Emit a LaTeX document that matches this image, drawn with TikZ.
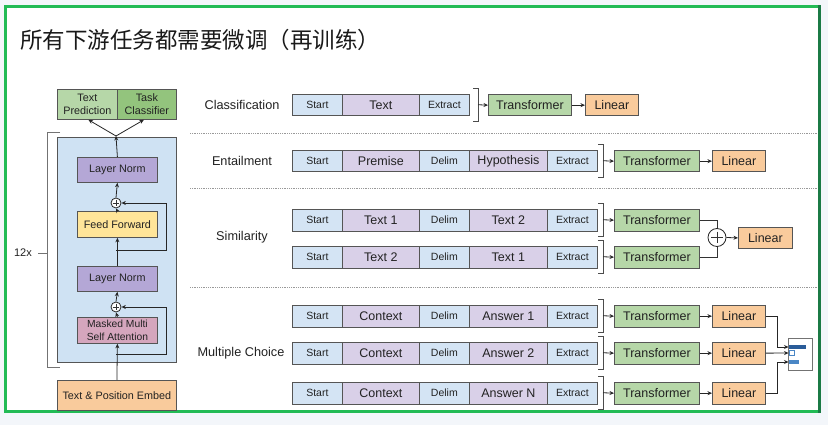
\documentclass[tikz,border=0pt]{standalone}
\usepackage{fontspec}
\setmainfont{Liberation Sans}
\newfontfamily\cjk{Noto Sans CJK SC}
\usetikzlibrary{arrows.meta}
\definecolor{bgc}{HTML}{F3F6FA}
\definecolor{frg}{HTML}{22BB55}
\definecolor{frd}{HTML}{1B7A45}
\definecolor{bordc}{HTML}{555555}
\definecolor{txtc}{HTML}{222222}
\definecolor{cblu}{HTML}{D4E4F4}
\definecolor{clav}{HTML}{D9D0E8}
\definecolor{cgrn}{HTML}{B6D7A8}
\definecolor{cdgrn}{HTML}{93C47D}
\definecolor{corg}{HTML}{F9CB9C}
\definecolor{cbig}{HTML}{CFE2F3}
\definecolor{cln}{HTML}{B4A7D6}
\definecolor{cff}{HTML}{FFE599}
\definecolor{cmm}{HTML}{D5A6BD}
\definecolor{bar1}{HTML}{2A5C99}
\definecolor{bar3}{HTML}{4A86C5}
\begin{document}
\begin{tikzpicture}[x=1pt,y=-1pt,
  tb/.style={draw=bordc, line width=0.8pt, anchor=north west, inner sep=0pt,
    minimum height=21.5pt, text=txtc, font=\fontsize{12.5}{14}\selectfont},
  sm/.style={font=\fontsize{10.5}{12}\selectfont},
  lb/.style={draw=bordc, line width=0.8pt, anchor=north west, inner sep=0pt,
    text=txtc, align=center, font=\fontsize{10.8}{13}\selectfont},
  arr/.style={draw=black!85, line width=0.8pt, -{Stealth[length=4.5pt,width=4pt]}},
  ln/.style={draw=black!80, line width=0.7pt},
  brkl/.style={draw=black!70, line width=0.8pt},
  sepl/.style={draw=black!40, line width=0.6pt, dash pattern=on 0.8pt off 1pt},
  plusc/.style={circle, draw=black!85, line width=0.8pt, fill=white, inner sep=0pt},
  task/.style={text=txtc, font=\fontsize{12.7}{15}\selectfont}
]
\useasboundingbox (0,0) rectangle (828,425);
\fill[bgc] (0,0) rectangle (828,425);
\fill[white] (5,7) rectangle (819,411);
\draw[frg, line width=3pt] (819,7) -- (5,7) -- (5,411) -- (819,411);
\draw[frd, line width=3pt] (819,5.5) -- (819,412.5);

% title
\node[anchor=west, text=black!90, font=\cjk\fontsize{22.5}{27}\selectfont, inner sep=0pt] (title) at (20,40) {所有下游任务都需要微调（再训练）};

% ---------- left: transformer ----------
\node[lb, fill=cbig, minimum width=119pt, minimum height=225pt] (big) at (57,137) {};
\node[lb, fill=cgrn, minimum width=60pt, minimum height=30pt] (tp) at (57,89) {Text\\Prediction};
\node[lb, fill=cdgrn, minimum width=59pt, minimum height=30pt] (tc) at (117,89) {Task\\Classifier};
\node[lb, fill=cln, minimum width=80pt, minimum height=25pt] (ln2) at (77,157) {Layer Norm};
\node[plusc, minimum size=10pt] (p1) at (116,203) {};
\node[lb, fill=cff, minimum width=80pt, minimum height=26pt] (ff) at (77,211) {Feed Forward};
\node[lb, fill=cln, minimum width=80pt, minimum height=25pt] (ln1) at (77,266) {Layer Norm};
\node[plusc, minimum size=10pt] (p2) at (116,307) {};
\node[lb, fill=cmm, minimum width=80pt, minimum height=26pt, font=\fontsize{10.3}{12.5}\selectfont] (mm) at (77,317) {Masked Multi\\Self Attention};
\node[lb, fill=corg, minimum width=119pt, minimum height=30pt] (emb) at (57,380) {Text \& Position Embed};

\foreach \p in {p1,p2}{
  \draw[ln, shorten <=2pt, shorten >=2pt] (\p.west) -- (\p.east);
  \draw[ln, shorten <=2pt, shorten >=2pt] (\p.north) -- (\p.south);
}
\draw[arr] (emb.north) -- (mm.south);
\draw[arr] (mm.north) -- (p2.south);
\draw[arr] (p2.north) -- (ln1.south);
\draw[arr] (ln1.north) -- (ff.south);
\draw[arr] (ff.north) -- (p1.south);
\draw[arr] (p1.north) -- (ln2.south);
\coordinate (r2a) at (116,354);
\coordinate (r2b) at (166,307);
\draw[arr] (r2a) -| (r2b) -- (p2.east);
\coordinate (r1a) at (116,250);
\coordinate (r1b) at (166,203);
\draw[arr] (r1a) -| (r1b) -- (p1.east);
\coordinate (split) at (116,136);
\draw[arr] (ln2.north) -- (split);
\draw[arr] (split) -- ([xshift=1pt]tp.south);
\draw[arr] (split) -- ([xshift=-3pt]tc.south);

% 12x bracket
\draw[draw=black!55, line width=0.7pt] (60,132) -- (47,132) -- (47,367) -- (60,367);
\coordinate (bm) at (47,253);
\node[text=txtc, font=\fontsize{11}{13}\selectfont] (twx) at (23,253) {12x};
\draw[draw=black!55, line width=0.7pt] (twx.east) ++(3,0) -- (bm);

% ---------- separators ----------
\draw[sepl] (190,133) -- (818,133);
\draw[sepl] (190,188) -- (818,188);
\draw[sepl] (190,287) -- (818,287);

% ---------- Classification ----------
\node[task] (lc) at (242,104.5) {Classification};
\node[tb, fill=cblu, minimum width=50pt, sm] (c1) at (292,94) {Start};
\node[tb, fill=clav, minimum width=77pt] (c2) at (342,94) {Text};
\node[tb, fill=cblu, minimum width=50pt, sm] (c3) at (419,94) {Extract};
\draw[brkl] (473,88) -- (478,88) -- (478,121.5) -- (473,121.5);
\coordinate (cb) at (478,104.75);
\node[tb, fill=cgrn, minimum width=83pt] (ct) at (488,94) {Transformer};
\node[tb, fill=corg, minimum width=53pt] (cl) at (585,94) {Linear};
\draw[arr] (cb) -- (ct.west);
\draw[arr] (ct.east) -- (cl.west);

% ---------- Entailment ----------
\node[task] (le) at (242,161) {Entailment};
\node[tb, fill=cblu, minimum width=50pt, sm] (e1) at (292,150) {Start};
\node[tb, fill=clav, minimum width=77pt] (e2) at (342,150) {Premise};
\node[tb, fill=cblu, minimum width=50pt, sm] (e3) at (419,150) {Delim};
\node[tb, fill=clav, minimum width=78pt] (e4) at (469,150) {Hypothesis};
\node[tb, fill=cblu, minimum width=50pt, sm] (e5) at (547,150) {Extract};
\draw[brkl] (598,144) -- (603,144) -- (603,177.5) -- (598,177.5);
\coordinate (eb) at (603,160.75);
\node[tb, fill=cgrn, minimum width=85pt] (et) at (614,150) {Transformer};
\node[tb, fill=corg, minimum width=53pt] (el) at (712,150) {Linear};
\draw[arr] (eb) -- (et.west);
\draw[arr] (et.east) -- (el.west);

% ---------- Similarity ----------
\node[task] (ls) at (242,237) {Similarity};
\node[tb, fill=cblu, minimum width=50pt, sm] (sa1) at (292,209) {Start};
\node[tb, fill=clav, minimum width=77pt] (sa2) at (342,209) {Text 1};
\node[tb, fill=cblu, minimum width=50pt, sm] (sa3) at (419,209) {Delim};
\node[tb, fill=clav, minimum width=78pt] (sa4) at (469,209) {Text 2};
\node[tb, fill=cblu, minimum width=50pt, sm] (sa5) at (547,209) {Extract};
\draw[brkl] (598,203) -- (603,203) -- (603,236.5) -- (598,236.5);
\coordinate (sab) at (603,219.75);
\node[tb, fill=cgrn, minimum width=85pt] (sat) at (614,209) {Transformer};
\draw[arr] (sab) -- (sat.west);

\node[tb, fill=cblu, minimum width=50pt, sm] (sb1) at (292,246) {Start};
\node[tb, fill=clav, minimum width=77pt] (sb2) at (342,246) {Text 2};
\node[tb, fill=cblu, minimum width=50pt, sm] (sb3) at (419,246) {Delim};
\node[tb, fill=clav, minimum width=78pt] (sb4) at (469,246) {Text 1};
\node[tb, fill=cblu, minimum width=50pt, sm] (sb5) at (547,246) {Extract};
\draw[brkl] (598,240) -- (603,240) -- (603,273.5) -- (598,273.5);
\coordinate (sbb) at (603,256.75);
\node[tb, fill=cgrn, minimum width=85pt] (sbt) at (614,246) {Transformer};
\draw[arr] (sbb) -- (sbt.west);

\node[plusc, minimum size=18pt] (sp) at (717,237.5) {};
\draw[ln, line width=0.8pt, shorten <=3.5pt, shorten >=3.5pt] (sp.west) -- (sp.east);
\draw[ln, line width=0.8pt, shorten <=3.5pt, shorten >=3.5pt] (sp.north) -- (sp.south);
\draw[ln] (sat.east) -| (sp.north);
\draw[ln] (sbt.east) -| (sp.south);
\node[tb, fill=corg, minimum width=54pt] (sl) at (738,226.75) {Linear};
\draw[arr] (sp.east) -- (sl.west);

% ---------- Multiple Choice ----------
\node[task] (lm) at (241,353) {Multiple Choice};
\node[tb, fill=cblu, minimum width=50pt, sm] (ma1) at (292,305) {Start};
\node[tb, fill=clav, minimum width=77pt] (ma2) at (342,305) {Context};
\node[tb, fill=cblu, minimum width=50pt, sm] (ma3) at (419,305) {Delim};
\node[tb, fill=clav, minimum width=78pt] (ma4) at (469,305) {Answer 1};
\node[tb, fill=cblu, minimum width=50pt, sm] (ma5) at (547,305) {Extract};
\draw[brkl] (598,299) -- (603,299) -- (603,332.5) -- (598,332.5);
\coordinate (mab) at (603,315.75);
\node[tb, fill=cgrn, minimum width=85pt] (mat) at (614,305) {Transformer};
\node[tb, fill=corg, minimum width=53pt] (mal) at (712,305) {Linear};
\draw[arr] (mab) -- (mat.west);
\draw[arr] (mat.east) -- (mal.west);

\node[tb, fill=cblu, minimum width=50pt, sm] (mb1) at (292,342) {Start};
\node[tb, fill=clav, minimum width=77pt] (mb2) at (342,342) {Context};
\node[tb, fill=cblu, minimum width=50pt, sm] (mb3) at (419,342) {Delim};
\node[tb, fill=clav, minimum width=78pt] (mb4) at (469,342) {Answer 2};
\node[tb, fill=cblu, minimum width=50pt, sm] (mb5) at (547,342) {Extract};
\draw[brkl] (598,336) -- (603,336) -- (603,369.5) -- (598,369.5);
\coordinate (mbb) at (603,352.75);
\node[tb, fill=cgrn, minimum width=85pt] (mbt) at (614,342) {Transformer};
\node[tb, fill=corg, minimum width=53pt] (mbl) at (712,342) {Linear};
\draw[arr] (mbb) -- (mbt.west);
\draw[arr] (mbt.east) -- (mbl.west);

\node[tb, fill=cblu, minimum width=50pt, sm] (mc1) at (292,382) {Start};
\node[tb, fill=clav, minimum width=77pt] (mc2) at (342,382) {Context};
\node[tb, fill=cblu, minimum width=50pt, sm] (mc3) at (419,382) {Delim};
\node[tb, fill=clav, minimum width=78pt] (mc4) at (469,382) {Answer N};
\node[tb, fill=cblu, minimum width=50pt, sm] (mc5) at (547,382) {Extract};
\draw[brkl] (598,376) -- (603,376) -- (603,409.5) -- (598,409.5);
\coordinate (mcb) at (603,392.75);
\node[tb, fill=cgrn, minimum width=85pt] (mct) at (614,382) {Transformer};
\node[tb, fill=corg, minimum width=53pt] (mcl) at (712,382) {Linear};
\draw[arr] (mcb) -- (mct.west);
\draw[arr] (mct.east) -- (mcl.west);

% softmax box
\node[draw=black!55, line width=0.8pt, fill=white, anchor=north west, inner sep=0pt, minimum width=24pt, minimum height=32pt] (smx) at (788,338) {};
\fill[bar1] (789,345) rectangle (806,349);
\draw[bar3, line width=0.6pt] (789.5,350.5) rectangle (794,355.5);
\fill[bar3] (789,360) rectangle (799,364);
\coordinate (in1) at (788.5,347);
\coordinate (in2) at (788.5,353);
\coordinate (in3) at (788.5,362);
\draw[arr] (mal.east) -| (777,347) -- (in1);
\draw[arr] (mbl.east) -- (in2);
\draw[arr] (mcl.east) -| (777,362) -- (in3);
\end{tikzpicture}
\end{document}
